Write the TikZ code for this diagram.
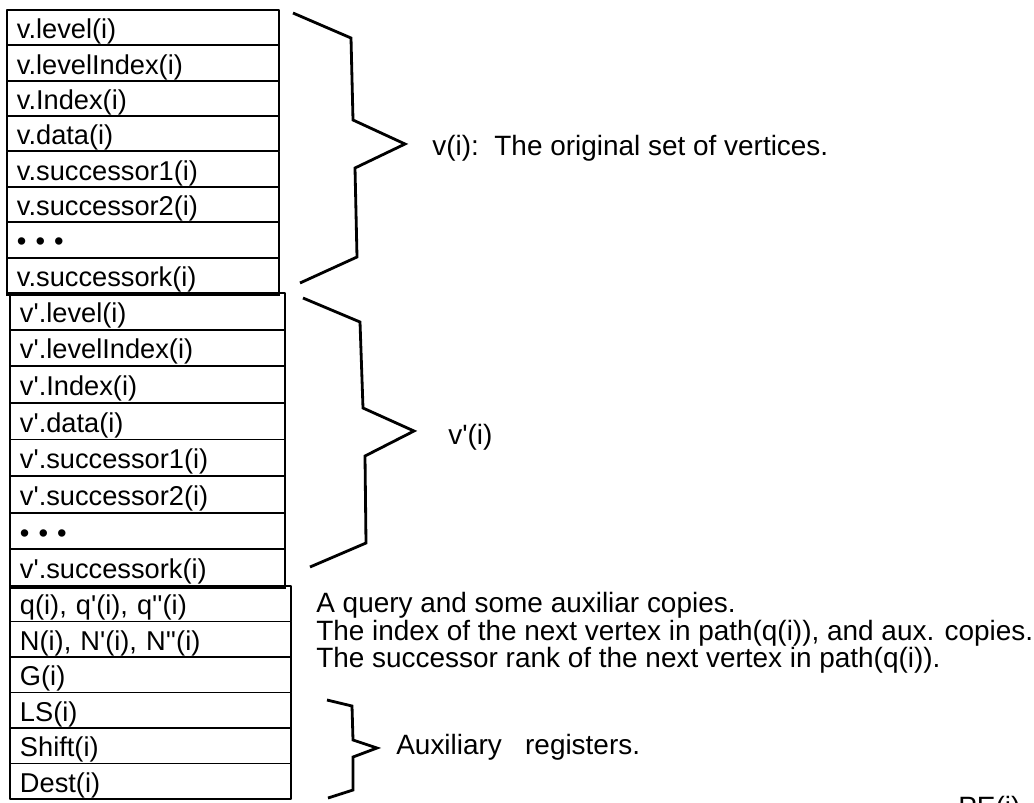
\documentclass[tikz,border=0pt]{standalone}
\usepackage{fontspec}
\setmainfont{Liberation Sans}
\newcommand{\prm}{\textquotesingle}
\begin{document}
\begin{tikzpicture}[x=0.02cm,y=-0.02cm,line join=bevel,
  reg/.style={draw,line width=1.1pt,anchor=north west,inner xsep=0.2cm,text width=#1,
    text height=0.44cm,text depth=0pt,align=left,font=\fontsize{15.5}{18}\selectfont},
  note/.style={anchor=base west,inner sep=0pt,font=\fontsize{15.9}{19}\selectfont},
  brace/.style={line width=1.6pt,line join=miter}]
\useasboundingbox (0,0) rectangle (1034,802);
%%
\node (reg_0) at (6,9) [reg=5.04cm,minimum height=0.7075cm] {v.level(i)};
  \node (reg_1) at (6,44.4) [reg=5.04cm,minimum height=0.7075cm] {v.levelIndex(i)};
  \node (reg_2) at (6,79.8) [reg=5.04cm,minimum height=0.7075cm] {v.Index(i)};
  \node (reg_3) at (6,115.1) [reg=5.04cm,minimum height=0.7075cm] {v.data(i)};
  \node (reg_4) at (6,150.5) [reg=5.04cm,minimum height=0.7075cm] {v.successor1(i)};
  \node (reg_5) at (6,185.9) [reg=5.04cm,minimum height=0.7075cm] {v.successor2(i)};
  \node (reg_6) at (6,221.3) [reg=5.04cm,minimum height=0.7075cm] {• • •};
  \node (reg_7) at (6,256.6) [reg=5.04cm,minimum height=0.7075cm] {v.successork(i)};
%
\node (reg_8) at (9,292) [reg=5.10cm,minimum height=0.7325cm] {v\prm.level(i)};
  \node (reg_9) at (9,328.6) [reg=5.10cm,minimum height=0.7325cm] {v\prm.levelIndex(i)};
  \node (reg_10) at (9,365.3) [reg=5.10cm,minimum height=0.7325cm] {v\prm.Index(i)};
  \node (reg_11) at (9,401.9) [reg=5.10cm,minimum height=0.7325cm] {v\prm.data(i)};
  \node (reg_12) at (9,438.5) [reg=5.10cm,minimum height=0.7325cm] {v\prm.successor1(i)};
  \node (reg_13) at (9,475.1) [reg=5.10cm,minimum height=0.7325cm] {v\prm.successor2(i)};
  \node (reg_14) at (9,511.8) [reg=5.10cm,minimum height=0.7325cm] {• • •};
  \node (reg_15) at (9,548.4) [reg=5.10cm,minimum height=0.7325cm] {v\prm.successork(i)};
%
\node (reg_16) at (9,585) [reg=5.22cm,minimum height=0.71cm] {q(i), q\prm(i), q\prm\prm(i)};
  \node (reg_17) at (9,620.5) [reg=5.22cm,minimum height=0.71cm] {N(i), N\prm(i), N\prm\prm(i)};
  \node (reg_18) at (9,656) [reg=5.22cm,minimum height=0.71cm] {G(i)};
  \node (reg_19) at (9,691.5) [reg=5.22cm,minimum height=0.71cm] {LS(i)};
  \node (reg_20) at (9,727) [reg=5.22cm,minimum height=0.71cm] {Shift(i)};
  \node (reg_21) at (9,762.5) [reg=5.22cm,minimum height=0.71cm] {Dest(i)};
%
\draw [line width=2.4pt] (reg_7.south west) -- (reg_7.south east);
\draw [line width=2.4pt] (reg_15.south west) -- (reg_15.south east);
%% braces
\draw [brace] (293,13) -- (351,38) -- (353,120) -- (405,144) -- (355,168) -- (357,257) -- (300,283);
\draw [brace] (303,298) -- (360,322) -- (363,408) -- (414,431) -- (365,456) -- (366,543) -- (310,567);
\draw [brace] (327,700) -- (352,706) -- (353,740) -- (377,748) -- (353,757) -- (353,790) -- (328,798);
%% labels
\node (lbl_v) at (432,155) [note] {v(i):\ \ The original set of vertices.};
\node (lbl_vp) at (448,444) [note] {v\prm(i)};
\node (lbl_q) at (316,612) [note] {A query and some auxiliar copies.};
\node (lbl_n) at (316,640) [note] {The index of the next vertex in path(q(i)), and aux. copies.};
\node (lbl_g) at (316,667) [note] {The successor rank of the next vertex in path(q(i)).};
\node (lbl_aux) at (396,754) [note] {Auxiliary\ \ \ registers.};
\node (lbl_pe) at (958,816) [note] {PE(i)};
%
\end{tikzpicture}
\end{document}
